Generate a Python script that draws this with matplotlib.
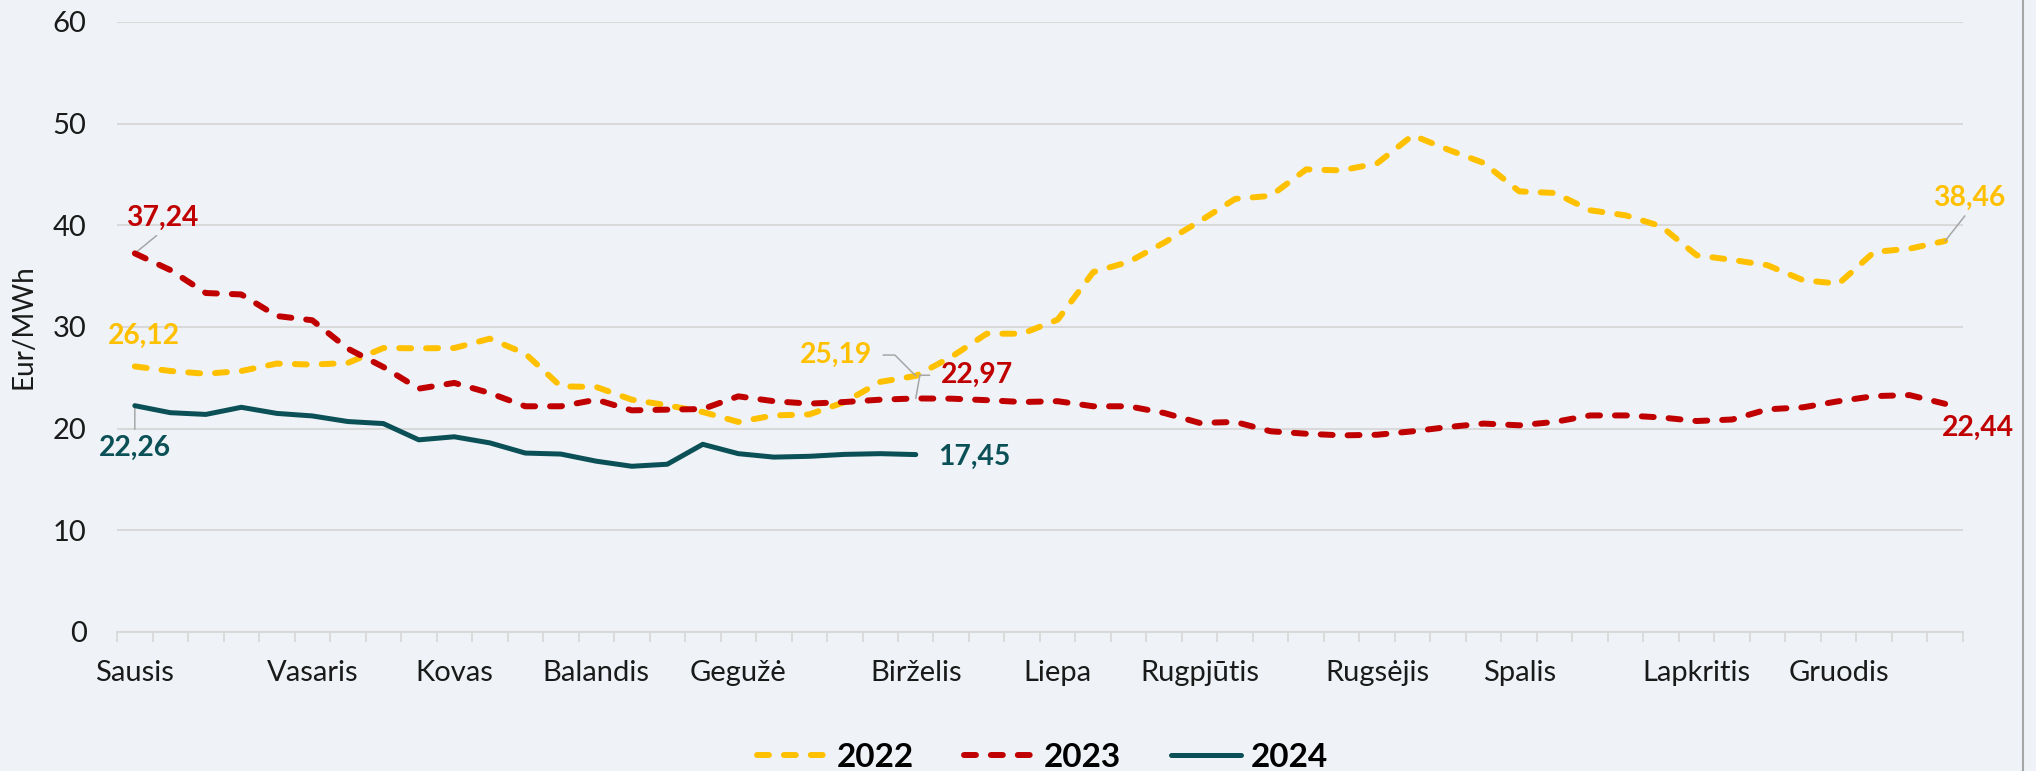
import matplotlib
matplotlib.use("Agg")
import matplotlib.pyplot as plt
from matplotlib.lines import Line2D

plt.rcParams['font.family'] = ['Lato', 'DejaVu Sans']

# weekly average prices, Eur/MWh (52 weeks)
prices_2022 = [26.12, 25.67, 25.4, 25.67, 26.4, 26.3, 26.46, 27.93, 27.9, 27.93,
               28.85, 27.38, 24.16, 24.1, 22.85, 22.3, 21.64, 20.66, 21.3, 21.4,
               22.62, 24.6, 25.19, 27.05, 29.34, 29.34, 30.72, 35.4, 36.4, 38.3,
               40.4, 42.6, 42.9, 45.5, 45.4, 46.1, 48.85, 47.44, 46.13, 43.34,
               43.18, 41.48, 40.98, 39.9, 37.05, 36.6, 36.07, 34.6, 34.26, 37.38,
               37.7, 38.46]
prices_2023 = [37.24, 35.6, 33.34, 33.2, 31.08, 30.66, 27.87, 26.07, 23.93, 24.5,
               23.5, 22.2, 22.2, 22.85, 21.8, 21.87, 21.93, 23.18, 22.7, 22.46,
               22.62, 22.85, 22.97, 22.95, 22.8, 22.62, 22.7, 22.2, 22.2, 21.54,
               20.56, 20.66, 19.74, 19.5, 19.34, 19.4, 19.74, 20.16, 20.5, 20.33,
               20.66, 21.3, 21.3, 21.1, 20.75, 20.9, 21.9, 22.1, 22.7, 23.2,
               23.3, 22.44]
prices_2024 = [22.26, 21.57, 21.4, 22.1, 21.5, 21.25, 20.7, 20.5, 18.9, 19.2,
               18.6, 17.6, 17.5, 16.8, 16.3, 16.5, 18.46, 17.54, 17.2, 17.28,
               17.47, 17.54, 17.45]

months = ["Sausis", "Vasaris", "Kovas", "Balandis", "Gegužė", "Birželis",
          "Liepa", "Rugpjūtis", "Rugsėjis", "Spalis", "Lapkritis", "Gruodis"]
month_weeks = [0, 5, 9, 13, 17, 22, 26, 30, 35, 39, 44, 48]

YELLOW = "#FFC000"
RED = "#C00000"
TEAL = "#0B5056"
GRID = "#D9D9D9"
BG = "#EFF3F7"
LEADER = "#A6A6A6"

fig = plt.figure(figsize=(20.36, 7.71), dpi=100, facecolor=BG)
ax = fig.add_axes([0.0575, 0.1803, 0.9066, 0.7912], facecolor=BG)

w22 = list(range(len(prices_2022)))
w23 = list(range(len(prices_2023)))
w24 = list(range(len(prices_2024)))

l22, = ax.plot(w22, prices_2022, color=YELLOW, lw=4.3, dashes=(2.0, 2.5),
               dash_capstyle='round', solid_joinstyle='round', label="2022", zorder=3)
l23, = ax.plot(w23, prices_2023, color=RED, lw=4.3, dashes=(2.0, 2.5),
               dash_capstyle='round', solid_joinstyle='round', label="2023", zorder=4)
l24, = ax.plot(w24, prices_2024, color=TEAL, lw=3.6, solid_capstyle='round',
               solid_joinstyle='round', label="2024", zorder=5)

ax.set_xlim(-0.5, len(prices_2022) - 0.5)
ax.set_ylim(0, 60)
ax.set_yticks(range(0, 61, 10))
ax.yaxis.grid(True, color=GRID, lw=1.5)
ax.set_axisbelow(True)

ax.set_xticks(month_weeks)
ax.set_xticklabels(months)
ax.set_xticks([i - 0.5 for i in range(len(prices_2022) + 1)], minor=True)
ax.tick_params(axis='x', which='major', length=0, pad=20, labelsize=21, labelcolor='#1a1a1a')
ax.tick_params(axis='x', which='minor', length=7.5, width=1.3, color=GRID)
ax.tick_params(axis='y', length=0, pad=22, labelsize=21, labelcolor='#1a1a1a')

for s in ['top', 'right', 'left']:
    ax.spines[s].set_visible(False)
ax.spines['bottom'].set_color(GRID)
ax.spines['bottom'].set_linewidth(1.5)

# y axis title, sized so it spans about 125 px like the original
ylab = fig.text(23 / 2036, 1 - 327 / 771, "Eur/MWh", rotation=90, ha='center',
                va='center', fontsize=21.5, color='#1a1a1a')
fig.canvas.draw()
h = ylab.get_window_extent().height
ylab.set_fontsize(21.5 * 125 / h)

lab = dict(fontsize=20.3, fontweight='bold', ha='center', va='center',
           textcoords='offset points', annotation_clip=False)
lead = dict(arrowstyle='-', color=LEADER, lw=1.1, shrinkA=2, shrinkB=0)

ax.annotate("37,24", (0, prices_2023[0]), xytext=(19.6, 25.4), color=RED,
            arrowprops=dict(lead, relpos=(0.5, 0)), **lab)
ax.annotate("26,12", (0, prices_2022[0]), xytext=(6.5, 21.8), color=YELLOW, **lab)
ax.annotate("22,26", (0, prices_2024[0]), xytext=(0, -30.3), color=TEAL,
            arrowprops=dict(lead, relpos=(0.5, 1)), **lab)
ax.annotate("25,19", (22, prices_2022[22]), xytext=(-57.5, 15), color=YELLOW,
            arrowprops=dict(lead, relpos=(1, 0.5), shrinkA=6,
                            connectionstyle="angle,angleA=0,angleB=135,rad=0"), **lab)
ax.annotate("22,97", (22, prices_2023[22]), xytext=(44, 16.7), color=RED,
            arrowprops=dict(lead, relpos=(0, 0.5), shrinkA=6,
                            connectionstyle="angle,angleA=0,angleB=80,rad=0"), **lab)
ax.annotate("17,45", (22, prices_2024[22]), xytext=(42, -1.5), color=TEAL, **lab)
ax.annotate("38,46", (51, prices_2022[51]), xytext=(17, 31), color=YELLOW,
            arrowprops=dict(lead, relpos=(0.5, 0)), **lab)
ax.annotate("22,44", (51, prices_2023[51]), xytext=(23.5, -17.5), color=RED, **lab)

leg = fig.legend(handles=[l22, l23, l24], loc='center', bbox_to_anchor=(0.512, 0.018),
                 ncol=3, frameon=False, handlelength=2.1, handletextpad=0.3,
                 columnspacing=1.5, prop={'weight': 'bold', 'size': 24})

fig.add_artist(Line2D([2023 / 2036, 2023 / 2036], [0, 1], color="#A6A6A6", lw=1.5))

fig.savefig("out.png", dpi=100, facecolor=BG)
